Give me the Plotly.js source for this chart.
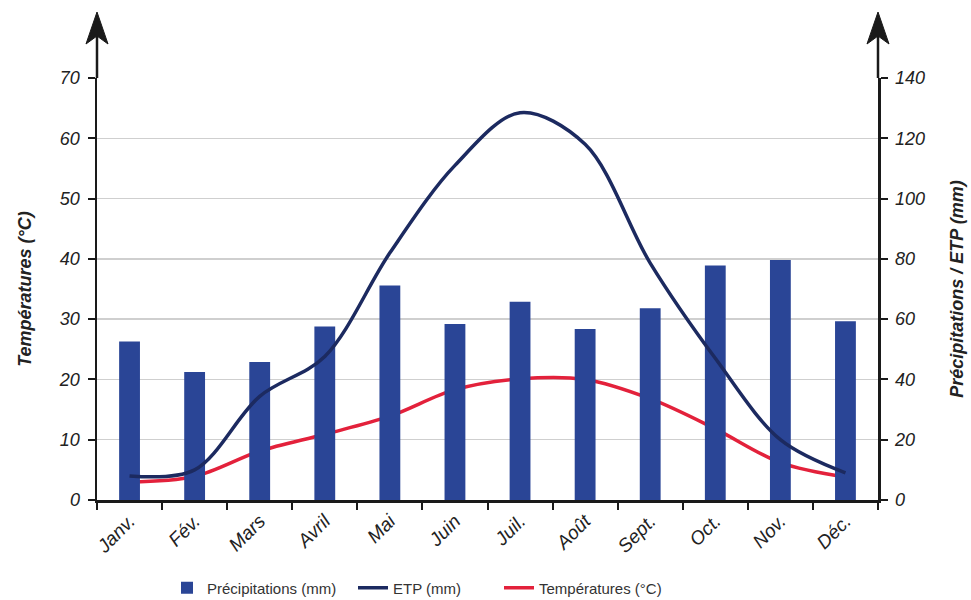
<!DOCTYPE html>
<html>
<head>
<meta charset="utf-8">
<script src="https://cdn.plot.ly/plotly-3.0.1.min.js"></script>
<style>html,body{margin:0;padding:0;background:#fff;}#chart{width:971px;height:600px;}</style>
</head>
<body>
<div id="chart"></div>
<script>
const months = ["Janv.", "Fév.", "Mars", "Avril", "Mai", "Juin", "Juil.", "Août", "Sept.", "Oct.", "Nov.", "Déc."];
const precipitations = [52.6, 42.5, 45.8, 57.6, 71.2, 58.4, 65.8, 56.7, 63.6, 77.8, 79.6, 59.3];
const etp = [8, 10, 34.4, 47.6, 82, 111, 128.5, 118, 78.6, 47, 20, 9];
const temperatures = [3.0, 3.9, 8.1, 10.9, 13.9, 18.3, 20.1, 20.0, 16.8, 11.8, 6.2, 3.8];
const tempTicks = [0, 10, 20, 30, 40, 50, 60, 70];
const mmTicks = [0, 20, 40, 60, 80, 100, 120, 140];

const axisColor = '#1a1a1a';
const FONT = 'Liberation Sans, Arial, sans-serif';
const tickFont = {family: FONT, size: 18, color: '#222', style: 'italic'};
const xTickFont = {family: FONT, size: 19, color: '#222', style: 'italic'};
const titleFont = {family: FONT, size: 18, color: '#222', style: 'italic', weight: 'bold'};
const legendFont = {family: FONT, size: 15, color: '#333'};

const traces = [
  {type: 'bar', name: 'Précipitations (mm)', x: months, y: precipitations, yaxis: 'y2',
   marker: {color: '#2a4596'}, width: 0.32, legend: 'legend'},
  {type: 'scatter', mode: 'lines', name: 'ETP (mm)', x: months, y: etp, yaxis: 'y2',
   line: {color: '#1c2a60', width: 3.5, shape: 'spline', smoothing: 0.95}, legend: 'legend2'},
  {type: 'scatter', mode: 'lines', name: 'Températures (°C)', x: months, y: temperatures, yaxis: 'y',
   line: {color: '#e3213b', width: 3.5, shape: 'spline', smoothing: 0.95}, legend: 'legend3'}
];

function leg(xpx) {
  return {orientation: 'h', xref: 'container', yref: 'container', x: xpx / 971, xanchor: 'left',
          y: 1 - 588 / 600, yanchor: 'middle', font: legendFont, bgcolor: 'rgba(0,0,0,0)', itemwidth: 30};
}

// Arrow decorations at the top of both vertical axes (plot area: 780 x 422 px)
const PW = 780, PH = 422;
function arrowShapes(x0) {
  const px = v => v / PW, py = v => 1 + v / PH;
  const tip = py(66), base = py(34), notch = py(42);
  return [
    {type: 'line', xref: 'paper', yref: 'paper', x0: x0, x1: x0, y0: 1, y1: notch,
     line: {color: axisColor, width: 2.5}},
    {type: 'path', xref: 'paper', yref: 'paper',
     path: `M ${x0} ${tip} L ${x0 + px(11)} ${base} L ${x0} ${notch} L ${x0 - px(11)} ${base} Z`,
     fillcolor: axisColor, line: {color: axisColor, width: 1}}
  ];
}

const layout = {
  width: 971, height: 600,
  margin: {l: 97, r: 93, t: 78, b: 100},
  paper_bgcolor: '#fff', plot_bgcolor: '#fff',
  showlegend: true,
  legend: leg(167),
  legend2: leg(353),
  legend3: leg(499),
  xaxis: {type: 'category', automargin: false, showline: true, linecolor: axisColor, linewidth: 2.5,
          ticks: 'outside', tickson: 'boundaries', ticklen: 7, tickwidth: 2, tickcolor: axisColor,
          tickangle: -45, tickfont: xTickFont, ticklabelstandoff: 0,
          showgrid: false, zeroline: false, fixedrange: true},
  yaxis: {range: [0, 70], tickvals: tempTicks, automargin: false, showline: true, linecolor: axisColor, linewidth: 2.5,
          ticks: 'outside', ticklen: 7, tickwidth: 2, tickcolor: axisColor, tickfont: tickFont,
          ticklabelstandoff: 4,
          showgrid: true, gridcolor: '#cfcfcf', gridwidth: 1.5, zeroline: false,
          title: {text: 'Températures (°C)', font: titleFont, standoff: 23}},
  yaxis2: {range: [0, 140], tickvals: mmTicks, overlaying: 'y', side: 'right', automargin: false, showline: true,
           linecolor: axisColor, linewidth: 2.5, ticks: 'outside', ticklen: 7, tickwidth: 2,
           tickcolor: axisColor, tickfont: tickFont, ticklabelstandoff: 4, showgrid: false, zeroline: false,
           title: {text: 'Précipitations / ETP (mm)', font: titleFont, standoff: 27}},
  shapes: [...arrowShapes(0), ...arrowShapes(1)]
};

Plotly.newPlot('chart', traces, layout, {displayModeBar: false, staticPlot: true});
</script>
</body>
</html>
